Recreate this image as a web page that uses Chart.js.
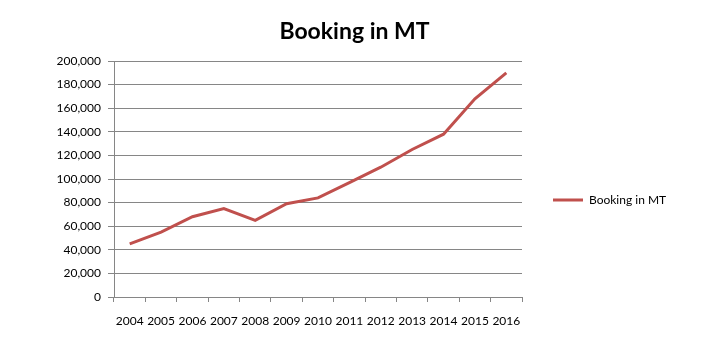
<!DOCTYPE html>
<html>
<head>
<meta charset="utf-8">
<script src="https://cdn.jsdelivr.net/npm/chart.js@4/dist/chart.umd.min.js"></script>
<style>
html,body{margin:0;padding:0;background:#fff;}
#wrap{width:709px;height:358px;position:relative;}
</style>
</head>
<body>
<div id="wrap"><canvas id="c" width="709" height="358"></canvas></div>
<script>
const categories = ["2004","2005","2006","2007","2008","2009","2010","2011","2012","2013","2014","2015","2016"];
const bookingValues = [45000,55000,68000,75000,65000,79000,84000,97000,110000,125000,138000,168000,190000];
const yTicks = [0,20000,40000,60000,80000,100000,120000,140000,160000,180000,200000];
const seriesName = "Booking in MT";
const titleText = "Booking in MT";

const FONT = "Lato, 'Liberation Sans', sans-serif";
Chart.defaults.font.family = FONT;
Chart.defaults.color = "#000";

const legendWidthPlugin = {
  id: 'legendWidth',
  beforeUpdate(chart) {
    const lg = chart.legend;
    if (lg && !lg._fixedWidth) {
      const orig = lg.fit.bind(lg);
      lg.fit = function () { orig(); this.width = 187; };
      lg._fixedWidth = true;
    }
  }
};

new Chart(document.getElementById('c'), {
  type: 'line',
  data: {
    labels: categories,
    datasets: [{
      label: seriesName,
      data: bookingValues,
      borderColor: '#c0504d',
      backgroundColor: '#c0504d',
      borderWidth: 3,
      pointRadius: 0,
      tension: 0,
      fill: false
    }]
  },
  plugins: [legendWidthPlugin],
  options: {
    responsive: false,
    animation: false,
    devicePixelRatio: 1,
    layout: { padding: { left: 0, right: 0, top: 0, bottom: 0 } },
    plugins: {
      title: {
        display: true,
        text: titleText,
        font: { size: 23, weight: 'bold', family: FONT },
        color: '#000',
        padding: { top: 18, bottom: 15.4 }
      },
      legend: {
        display: true,
        position: 'right',
        title: { display: true, text: ' ', font: { size: 10 }, padding: { top: 0, bottom: 30 } },
        labels: {
          boxWidth: 30,
          boxHeight: 0,
          padding: 31,
          font: { size: 12, family: FONT },
          color: '#000',
          generateLabels: (chart) => [{
            text: seriesName,
            strokeStyle: '#c0504d',
            fillStyle: '#c0504d',
            lineWidth: 3,
            datasetIndex: 0
          }]
        }
      },
      tooltip: { enabled: false }
    },
    scales: {
      x: {
        type: 'category',
        offset: true,
        grid: {
          offset: true,
          drawOnChartArea: false,
          color: '#868686',
          tickLength: 5,
          tickColor: '#868686'
        },
        border: { color: '#868686', width: 1 },
        ticks: {
          font: { size: 12, family: FONT },
          color: '#000',
          padding: 12,
          maxRotation: 0,
          autoSkip: false
        },
        afterFit: (s) => { s.height = 61; }
      },
      y: {
        min: 0,
        max: 200000,
        afterBuildTicks: (s) => { s.ticks = yTicks.map(v => ({ value: v })); },
        grid: {
          color: '#868686',
          tickLength: 6,
          tickColor: '#868686'
        },
        border: { color: '#868686', width: 1 },
        ticks: {
          font: { size: 12, family: FONT },
          color: '#000',
          padding: 7,
          callback: (v) => v.toLocaleString('en-US')
        },
        afterFit: (s) => { s.width = 114; }
      }
    }
  }
});
</script>
</body>
</html>
